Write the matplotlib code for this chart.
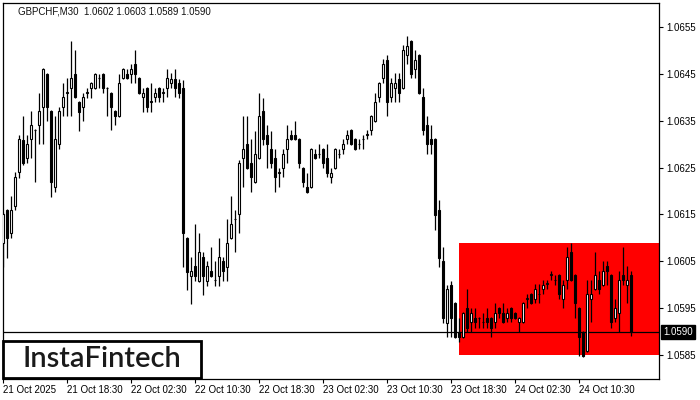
import matplotlib
matplotlib.use("Agg")
import matplotlib.pyplot as plt
import matplotlib.transforms as mtransforms
from matplotlib.patches import Rectangle

# GBPCHF M30 candles
opens = [
    1.06089, 1.06160, 1.06111, 1.06168, 1.06241, 1.06309, 1.06271, 1.06311, 1.06330, 1.06341,
    1.06380, 1.06450, 1.06371, 1.06209, 1.06301, 1.06380, 1.06410, 1.06420, 1.06450, 1.06390,
    1.06380, 1.06410, 1.06420, 1.06420, 1.06442, 1.06450, 1.06420, 1.06410, 1.06371, 1.06360,
    1.06442, 1.06450, 1.06450, 1.06471, 1.06442, 1.06401, 1.06420, 1.06390, 1.06401, 1.06420,
    1.06410, 1.06420, 1.06431, 1.06439, 1.06431, 1.06420, 1.06100, 1.06019, 1.06040, 1.06008,
    1.06060, 1.06008, 1.06030, 1.06011, 1.06019, 1.06051, 1.06038, 1.06100, 1.06141, 1.06151,
    1.06271, 1.06301, 1.06260, 1.06220, 1.06271, 1.06371, 1.06320, 1.06290, 1.06271, 1.06239,
    1.06250, 1.06290, 1.06320, 1.06320, 1.06311, 1.06250, 1.06209, 1.06209, 1.06279, 1.06279,
    1.06290, 1.06271, 1.06230, 1.06250, 1.06279, 1.06290, 1.06311, 1.06331, 1.06311, 1.06301,
    1.06311, 1.06320, 1.06331, 1.06350, 1.06401, 1.06442, 1.06480, 1.06401, 1.06420, 1.06439,
    1.06420, 1.06491, 1.06521, 1.06461, 1.06491, 1.06401, 1.06341, 1.06311, 1.06311, 1.06160,
    1.06051, 1.05919, 1.06000, 1.05961, 1.05900, 1.05889, 1.05951, 1.05921, 1.05929, 1.05929,
    1.05921, 1.05929, 1.05929, 1.05921, 1.05951, 1.05940, 1.05929, 1.05951, 1.05940, 1.05921,
    1.05921, 1.05970, 1.05981, 1.05970, 1.05981, 1.05991, 1.06002, 1.06021, 1.06011, 1.06021,
    1.05970, 1.06011, 1.06070, 1.06021, 1.05951, 1.05900, 1.05859, 1.05970, 1.05991, 1.06011,
    1.06000, 1.06040, 1.06021, 1.05929, 1.05940, 1.06021, 1.06000, 1.0602,
]
highs = [
    1.06156, 1.06162, 1.06190, 1.06241, 1.06320, 1.06360, 1.06320, 1.06371, 1.06333, 1.06410,
    1.06463, 1.06452, 1.06373, 1.06360, 1.06380, 1.06431, 1.06442, 1.06521, 1.06501, 1.06392,
    1.06410, 1.06420, 1.06433, 1.06452, 1.06450, 1.06452, 1.06422, 1.06412, 1.06373, 1.06450,
    1.06463, 1.06461, 1.06471, 1.06501, 1.06444, 1.06420, 1.06422, 1.06431, 1.06420, 1.06422,
    1.06420, 1.06461, 1.06452, 1.06461, 1.06439, 1.06437, 1.06102, 1.06060, 1.06130, 1.06111,
    1.06070, 1.06051, 1.06081, 1.06051, 1.06100, 1.06060, 1.06141, 1.06190, 1.06160, 1.06267,
    1.06360, 1.06360, 1.06311, 1.06328, 1.06410, 1.06399, 1.06341, 1.06328, 1.06290, 1.06250,
    1.06290, 1.06341, 1.06331, 1.06350, 1.06313, 1.06252, 1.06239, 1.06292, 1.06290, 1.06301,
    1.06292, 1.06301, 1.06250, 1.06292, 1.06290, 1.06311, 1.06331, 1.06333, 1.06313, 1.06311,
    1.06320, 1.06331, 1.06362, 1.06410, 1.06433, 1.06482, 1.06491, 1.06442, 1.06452, 1.06452,
    1.06512, 1.06531, 1.06523, 1.06501, 1.06493, 1.06420, 1.06360, 1.06341, 1.06313, 1.06181,
    1.06081, 1.06000, 1.06008, 1.05963, 1.05929, 1.05942, 1.05991, 1.05951, 1.05951, 1.05931,
    1.05940, 1.05951, 1.05931, 1.05961, 1.05953, 1.05961, 1.05951, 1.05953, 1.05942, 1.05931,
    1.05963, 1.05981, 1.05983, 1.06002, 1.06002, 1.06011, 1.06011, 1.06030, 1.06021, 1.06023,
    1.06011, 1.06081, 1.06089, 1.06023, 1.05953, 1.05902, 1.06011, 1.06011, 1.06070, 1.06030,
    1.06051, 1.06051, 1.06023, 1.05970, 1.06030, 1.06081, 1.06040, 1.0603,
]
lows = [
    1.06038, 1.06057, 1.06100, 1.06160, 1.06228, 1.06256, 1.06260, 1.06271, 1.06220, 1.06301,
    1.06301, 1.06350, 1.06188, 1.06198, 1.06290, 1.06360, 1.06360, 1.06360, 1.06399, 1.06328,
    1.06350, 1.06399, 1.06399, 1.06418, 1.06420, 1.06410, 1.06360, 1.06331, 1.06341, 1.06358,
    1.06440, 1.06440, 1.06431, 1.06431, 1.06408, 1.06369, 1.06369, 1.06369, 1.06390, 1.06390,
    1.06390, 1.06401, 1.06420, 1.06401, 1.06399, 1.06038, 1.05989, 1.05959, 1.06008, 1.06006,
    1.05978, 1.05998, 1.06017, 1.05998, 1.05998, 1.06008, 1.06008, 1.06098, 1.06070, 1.06111,
    1.06209, 1.06248, 1.06198, 1.06218, 1.06269, 1.06299, 1.06250, 1.06250, 1.06198, 1.06209,
    1.06230, 1.06260, 1.06309, 1.06309, 1.06250, 1.06209, 1.06196, 1.06207, 1.06269, 1.06271,
    1.06250, 1.06230, 1.06217, 1.06248, 1.06271, 1.06279, 1.06301, 1.06299, 1.06288, 1.06290,
    1.06290, 1.06311, 1.06320, 1.06348, 1.06390, 1.06431, 1.06360, 1.06390, 1.06390, 1.06390,
    1.06418, 1.06471, 1.06442, 1.06442, 1.06408, 1.06320, 1.06279, 1.06279, 1.06117, 1.06038,
    1.05919, 1.05889, 1.05889, 1.05887, 1.05878, 1.05887, 1.05900, 1.05900, 1.05908, 1.05908,
    1.05908, 1.05908, 1.05889, 1.05908, 1.05929, 1.05919, 1.05921, 1.05921, 1.05927, 1.05900,
    1.05919, 1.05951, 1.05959, 1.05961, 1.05961, 1.05981, 1.05991, 1.06011, 1.06000, 1.05970,
    1.05951, 1.05991, 1.06009, 1.05929, 1.05848, 1.05846, 1.05857, 1.05921, 1.05989, 1.05981,
    1.05998, 1.06000, 1.05908, 1.05921, 1.05900, 1.06000, 1.05961, 1.0589,
]
closes = [
    1.06151, 1.06100, 1.06160, 1.06230, 1.06311, 1.06260, 1.06301, 1.06341, 1.06331, 1.06371,
    1.06461, 1.06380, 1.06220, 1.06311, 1.06371, 1.06401, 1.06411, 1.06442, 1.06401, 1.06369,
    1.06401, 1.06411, 1.06431, 1.06450, 1.06441, 1.06420, 1.06419, 1.06380, 1.06360, 1.06431,
    1.06461, 1.06442, 1.06461, 1.06450, 1.06410, 1.06410, 1.06380, 1.06391, 1.06410, 1.06401,
    1.06411, 1.06442, 1.06439, 1.06420, 1.06410, 1.06111, 1.06028, 1.06030, 1.06019, 1.06070,
    1.06019, 1.06040, 1.06019, 1.06010, 1.06060, 1.06030, 1.06089, 1.06130, 1.06140, 1.06260,
    1.06290, 1.06250, 1.06230, 1.06279, 1.06360, 1.06311, 1.06301, 1.06260, 1.06230, 1.06240,
    1.06279, 1.06311, 1.06311, 1.06311, 1.06260, 1.06220, 1.06198, 1.06290, 1.06271, 1.06280,
    1.06260, 1.06239, 1.06239, 1.06290, 1.06280, 1.06301, 1.06320, 1.06301, 1.06290, 1.06300,
    1.06312, 1.06321, 1.06360, 1.06390, 1.06431, 1.06471, 1.06390, 1.06431, 1.06431, 1.06410,
    1.06501, 1.06510, 1.06450, 1.06480, 1.06410, 1.06331, 1.06301, 1.06301, 1.06149, 1.06057,
    1.05929, 1.05991, 1.05929, 1.05889, 1.05889, 1.05940, 1.05908, 1.05940, 1.05921, 1.05930,
    1.05920, 1.05921, 1.05908, 1.05940, 1.05940, 1.05921, 1.05940, 1.05929, 1.05929, 1.05929,
    1.05961, 1.05971, 1.05961, 1.05991, 1.05980, 1.06000, 1.06003, 1.06022, 1.06010, 1.05981,
    1.06000, 1.06060, 1.06011, 1.05961, 1.05889, 1.05848, 1.05981, 1.05981, 1.06021, 1.05991,
    1.06030, 1.06030, 1.05921, 1.05951, 1.06011, 1.06011, 1.06011, 1.0590,
]

time_labels = ["21 Oct 2025", "21 Oct 18:30", "22 Oct 02:30", "22 Oct 10:30", "22 Oct 18:30",
               "23 Oct 02:30", "23 Oct 10:30", "23 Oct 18:30", "24 Oct 02:30", "24 Oct 10:30"]
label_every = 16  # bars between time labels

price_ticks = [1.0585, 1.0595, 1.0605, 1.0615, 1.0625, 1.0635, 1.0645, 1.0655]

symbol = "GBPCHF,M30"
last_price = 1.0590
zone_start = 114      # first bar of the red zone
zone_top = 1.06088
zone_bottom = 1.0585

font_size = 7
font = "Liberation Sans"

fig = plt.figure(figsize=(7, 4), dpi=100)
ax = fig.add_axes([2.5 / 700, 1 - 379 / 400, 656.5 / 700, 376 / 400])

n = len(closes)
x = list(range(n))

# red zone
ax.add_patch(Rectangle((zone_start, zone_bottom), n + 20 - zone_start, zone_top - zone_bottom,
                       facecolor="#ff0000", edgecolor="none", zorder=1))

# last price line
ax.axhline(last_price, color="black", linewidth=0.9, zorder=2)

# candles
ax.vlines(x, lows, highs, color="black", linewidth=0.9, zorder=3)
body_bottom = [min(o, c) for o, c in zip(opens, closes)]
body_height = [abs(c - o) for o, c in zip(opens, closes)]
body_color = ["white" if c >= o else "black" for o, c in zip(opens, closes)]
ax.bar(x, body_height, bottom=body_bottom, width=0.55, color=body_color,
       edgecolor="black", linewidth=0.8, zorder=4)

ax.set_xlim(-0.125, 164.0)
ax.set_ylim(1.057988, 1.066012)

# axes styling
for side in ["top", "bottom", "left", "right"]:
    ax.spines[side].set_linewidth(0.9)

ax.yaxis.tick_right()
ax.set_yticks(price_ticks)
ax.set_yticklabels([f"{p:.4f}" for p in price_ticks], fontsize=font_size, family=font)
ax.tick_params(axis="y", direction="out", length=3, width=0.8, pad=2)

ax.set_xticks(list(range(0, n, label_every))[: len(time_labels)])
ax.set_xticklabels(time_labels, fontsize=font_size, family=font, ha="left")
ax.tick_params(axis="x", direction="out", length=3, width=0.8, pad=1.5)

# last price tag
trans = mtransforms.blended_transform_factory(ax.transAxes, ax.transData)
ax.text(1.006, last_price, f"{last_price:.4f}", transform=trans, ha="left", va="center",
        fontsize=font_size, family=font, color="white", clip_on=False,
        bbox=dict(boxstyle="square,pad=0.2", facecolor="black", edgecolor="black"))

# header
fig.text(18 / 700, 1 - 11 / 400,
         f"{symbol}  {opens[-1]:.4f} {highs[-1]:.4f} {lows[-1]:.4f} {closes[-1]:.4f}",
         fontsize=font_size, family=font, color="#111111", va="center", ha="left")

# logo box
fig.patches.append(Rectangle((3 / 700, 1 - 378 / 400), 198 / 700, 37 / 400,
                             transform=fig.transFigure, facecolor="white",
                             edgecolor="black", linewidth=2, zorder=10))
fig.text(102 / 700, 1 - 359 / 400, "InstaFintech", fontsize=21, family="Lato",
         fontweight="semibold", color="#1a1a1a", ha="center", va="center", zorder=11)

plt.savefig("out.png", dpi=100)
plt.close()
